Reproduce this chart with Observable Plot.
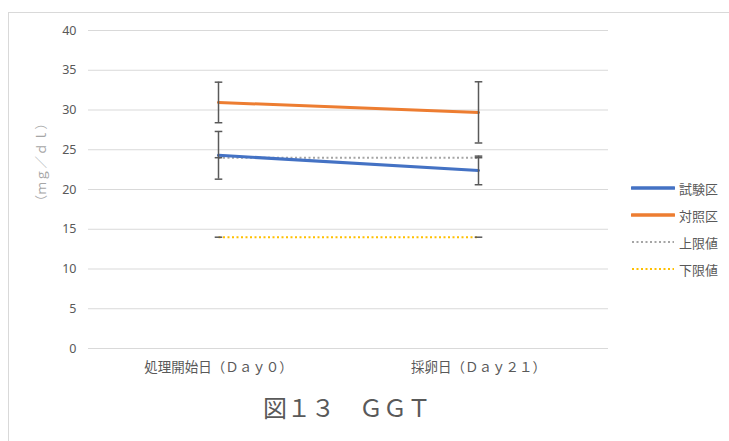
<!DOCTYPE html>
<html>
<head>
<meta charset="utf-8">
<script src="https://cdn.jsdelivr.net/npm/d3@7"></script>
<script src="https://cdn.jsdelivr.net/npm/@observablehq/plot@0.6"></script>
<style>
  html, body { margin: 0; padding: 0; background: #fff; overflow: hidden; }
  #wrap { position: relative; width: 729px; height: 441px; overflow: hidden; font-family: "Noto Sans CJK JP", "Noto Sans", sans-serif; }
  #frame { position: absolute; left: 8px; top: 12px; width: 900px; height: 600px; border: 1px solid #d9d9d9; box-sizing: border-box; }
  #chart { position: absolute; left: 0; top: 0; }
  #title { position: absolute; left: 0; width: 694px; top: 389px; text-align: center; font-size: 24px; color: #595959; }
  #ylabel { position: absolute; left: 40px; top: 162px; transform: translate(-50%, -50%) rotate(-90deg); white-space: nowrap; font-size: 12.5px; letter-spacing: 0.5px; color: #a6a6a6; }
  .leg { position: absolute; left: 631px; height: 20px; display: flex; align-items: center; font-size: 13px; color: #595959; }
  .leg svg { margin-right: 4px; }
</style>
</head>
<body>
<div id="wrap">
  <div id="frame"></div>
  <div id="chart"></div>
  <div id="ylabel">（ｍｇ／ｄｌ）</div>
  <div id="title">図１３　ＧＧＴ</div>
  <div id="legend"></div>
</div>
<script>
const categories = ["処理開始日（Ｄａｙ０）", "採卵日（Ｄａｙ２１）"];
const seriesNames = ["試験区", "対照区", "上限値", "下限値"];
const testValues = [24.3, 22.4];
const testErrors = [3.0, 1.8];
const controlValues = [30.95, 29.7];
const controlErrors = [2.55, 3.85];
const upperValues = [24, 24];
const lowerValues = [14, 14];
const yTicks = [0, 5, 10, 15, 20, 25, 30, 35, 40];

const colors = {"試験区": "#4472c4", "対照区": "#ed7d31", "上限値": "#a5a5a5", "下限値": "#ffc000"};
const styles = {
  "試験区": {w: 3, dash: null},
  "対照区": {w: 3, dash: null},
  "上限値": {w: 2, dash: "2,2.5"},
  "下限値": {w: 2, dash: "2,2.5"}
};

const allVals = [testValues, controlValues, upperValues, lowerValues];
const allErrs = [testErrors, controlErrors, [0, 0], [0, 0]];
const rows = [];
seriesNames.forEach((s, i) => categories.forEach((c, j) => {
  rows.push({series: s, cat: c, value: allVals[i][j], err: allErrs[i][j]});
}));

const capSymbol = {
  draw(ctx, size) {
    const w = 3.8;
    ctx.moveTo(-w, 0); ctx.lineTo(w, 0);
  }
};

const lineMarks = ["下限値", "上限値", "試験区", "対照区"].map(s =>
  Plot.line(rows.filter(r => r.series === s), {
    x: "cat", y: "value",
    stroke: colors[s], strokeWidth: styles[s].w,
    strokeDasharray: styles[s].dash || undefined,
    strokeLinecap: styles[s].dash ? "butt" : "round"
  })
);

const errRows = rows.filter(r => r.err > 0);
const capRows = [];
rows.forEach(r => { capRows.push({cat: r.cat, y: r.value + r.err}); if (r.err > 0) capRows.push({cat: r.cat, y: r.value - r.err}); });

const chart = Plot.plot({
  width: 729,
  height: 441,
  marginLeft: 88,
  marginRight: 121,
  marginTop: 30,
  marginBottom: 93,
  style: {fontFamily: "'Noto Sans', 'Noto Sans CJK JP', sans-serif", background: "transparent"},
  x: {type: "point", domain: categories, padding: 0.5, label: null},
  y: {domain: [0, 40], label: null},
  marks: [
    Plot.gridY(yTicks, {stroke: "#d9d9d9", strokeOpacity: 1, strokeWidth: 1}),
    Plot.axisY(yTicks, {tickSize: 0, tickPadding: 12, fontSize: 12.5, fill: "#595959", label: null}),
    Plot.axisX({tickSize: 0, tickPadding: 14, fontSize: 13.5, fill: "#595959", label: null, fontFamily: "'Noto Sans CJK JP', sans-serif"}),
    ...lineMarks,
    Plot.ruleX(errRows, {x: "cat", y1: d => d.value - d.err, y2: d => d.value + d.err, stroke: "#595959", strokeWidth: 1.5}),
    Plot.dot(capRows, {x: "cat", y: "y", symbol: capSymbol, stroke: "#595959", strokeWidth: 1.5, fill: "none", r: 4})
  ]
});
document.getElementById("chart").appendChild(chart);

const legend = document.getElementById("legend");
const legendTops = [178, 205, 232, 259];
seriesNames.forEach((s, i) => {
  const el = document.createElement("div");
  el.className = "leg";
  el.style.top = legendTops[i] + "px";
  const st = styles[s];
  el.innerHTML = `<svg width="44" height="6"><line x1="1" x2="43" y1="3" y2="3" stroke="${colors[s]}" stroke-width="${st.w + (st.dash ? 0 : 0.5)}" ${st.dash ? `stroke-dasharray="${st.dash}"` : 'stroke-linecap="round"'}/></svg><span>${s}</span>`;
  legend.appendChild(el);
});
</script>
</body>
</html>
